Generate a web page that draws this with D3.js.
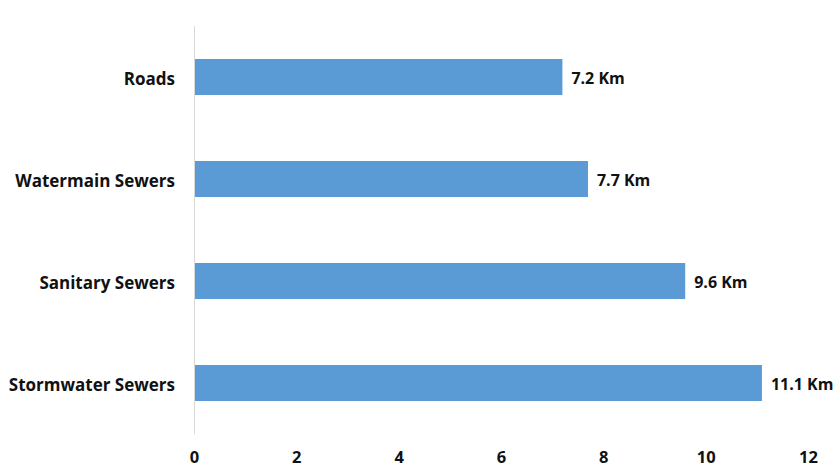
<!DOCTYPE html>
<html>
<head>
<meta charset="utf-8">
<script src="https://cdn.jsdelivr.net/npm/d3@7"></script>
<style>
  html, body { margin: 0; padding: 0; background: #fff; }
  svg { display: block; }
  text { font-family: "Open Sans", Lato, sans-serif; font-weight: 700; fill: #111; }
</style>
</head>
<body>
<div id="chart"></div>
<script>
// Network lengths by asset type, in kilometres
const categories = ["Roads", "Watermain Sewers", "Sanitary Sewers", "Stormwater Sewers"];
const lengths = [7.2, 7.7, 9.6, 11.1];
const unitLabel = "Km";
const xTicks = [0, 2, 4, 6, 8, 10, 12];

const width = 834, height = 468;
const margin = { top: 26, right: 26, bottom: 34, left: 194 };

const svg = d3.select("#chart").append("svg")
  .attr("width", width)
  .attr("height", height);

const x = d3.scaleLinear()
  .domain([0, 12])
  .range([margin.left, width - margin.right]);

const y = d3.scaleBand()
  .domain(categories)
  .range([margin.top, height - margin.bottom])
  .paddingInner(0.647)
  .paddingOuter(0.3235);

// Bars
svg.append("g")
  .selectAll("rect")
  .data(categories)
  .join("rect")
  .attr("x", x(0))
  .attr("y", d => y(d))
  .attr("width", (d, i) => x(lengths[i]) - x(0))
  .attr("height", y.bandwidth())
  .attr("fill", "#5B9BD5");

// Category axis (vertical line, labels at left)
const yAxis = svg.append("g")
  .attr("transform", `translate(${x(0)},0)`)
  .call(d3.axisLeft(y).tickSize(0).tickPadding(19));
yAxis.select(".domain")
  .attr("stroke", "#d9d9d9")
  .attr("d", `M0.5,${margin.top}V${height - margin.bottom}`);
yAxis.selectAll("text")
  .attr("font-size", 17)
  .attr("dy", "0.45em")
  .attr("fill", "#111");

// Value axis (labels only)
const xAxis = svg.append("g")
  .attr("transform", `translate(0,${height - margin.bottom})`)
  .call(d3.axisBottom(x).tickValues(xTicks).tickSize(0).tickPadding(17).tickFormat(d3.format("d")));
xAxis.select(".domain").remove();
xAxis.selectAll("text")
  .attr("font-size", 16.5)
  .attr("fill", "#111");

// Value labels
svg.append("g")
  .selectAll("text")
  .data(categories)
  .join("text")
  .attr("x", (d, i) => x(lengths[i]) + 9)
  .attr("y", d => y(d) + y.bandwidth() / 2)
  .attr("dy", "0.45em")
  .attr("font-size", 16)
  .text((d, i) => `${lengths[i]} ${unitLabel}`);
</script>
</body>
</html>
